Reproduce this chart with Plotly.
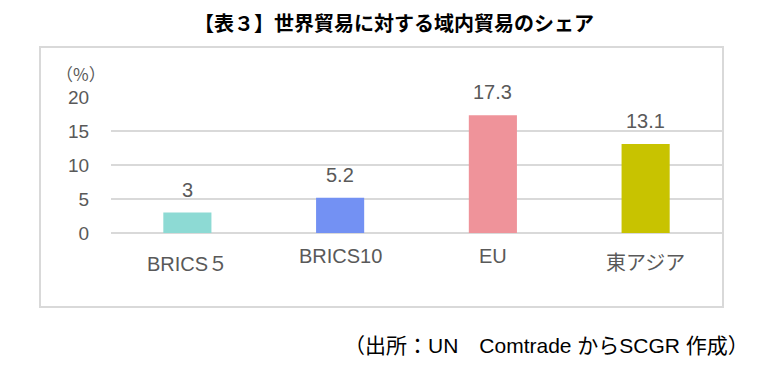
import plotly.graph_objects as go

categories = ["BRICS５", "BRICS10", "EU", "東アジア"]
values = [3, 5.2, 17.3, 13.1]
value_labels = ["3", "5.2", "17.3", "13.1"]
colors = ["#8ddad4", "#7391f3", "#ef939a", "#c8c300"]
y_ticks = [0, 5, 10, 15, 20]

# page body has an 8px margin, so the figure is drawn 8px smaller and shifted
OFF = 8
W, H = 772 - OFF, 374 - OFF
L, R, T, B = 111 - OFF, 722 - OFF, 97 - OFF, 233 - OFF

def px(x):
    return (x - OFF - L) / (R - L)

def py(y):
    return (B - (y - OFF)) / (B - T)

FONT = "Arial, 'Liberation Sans', 'Noto Sans CJK JP', sans-serif"
GRAY = "#595959"

fig = go.Figure(go.Bar(
    x=categories, y=values,
    marker=dict(color=colors, line=dict(width=0)),
    width=0.315, hoverinfo="skip",
))

annotations = [
    dict(text="<b>【表３】世界貿易に対する域内貿易のシェア</b>",
         xref="paper", yref="paper", x=px(394), y=py(22),
         showarrow=False, xanchor="center", yanchor="middle",
         font=dict(family="'Noto Sans CJK JP', sans-serif", size=20, color="#000000")),
    dict(text="（%）", xref="paper", yref="paper", x=px(81), y=py(73),
         showarrow=False, xanchor="center", yanchor="middle",
         font=dict(family="'Noto Sans CJK JP', sans-serif", size=17, color=GRAY)),
    dict(text="（出所：UN　Comtrade からSCGR 作成）",
         xref="paper", yref="paper", x=px(751), y=py(345),
         showarrow=False, xanchor="right", yanchor="middle",
         font=dict(family=FONT, size=21, color="#000000")),
]

# data labels above bars
for c, v, t in zip(categories, values, value_labels):
    annotations.append(dict(text=t, xref="x", yref="y", x=c, y=v,
                            showarrow=False, xanchor="center", yanchor="bottom",
                            yshift=10, font=dict(family=FONT, size=20, color=GRAY)))

# category labels (alternating heights, as in the original)
label_y = [264, 256, 256, 263]
for c, ly in zip(categories, label_y):
    annotations.append(dict(text=c, xref="x", yref="paper", x=c, y=py(ly),
                            showarrow=False, xanchor="center", yanchor="middle",
                            font=dict(family=FONT, size=20, color=GRAY)))

fig.update_layout(
    width=W, height=H,
    margin=dict(l=L, r=W - R, t=T, b=H - B),
    paper_bgcolor="white", plot_bgcolor="white",
    showlegend=False,
    font=dict(family=FONT, color=GRAY),
    xaxis=dict(showgrid=False, showline=False, zeroline=False,
               showticklabels=False),
    yaxis=dict(range=[0, 20], tickvals=y_ticks, showgrid=True,
               gridcolor="#d9d9d9", gridwidth=2, zeroline=True,
               zerolinecolor="#d9d9d9", zerolinewidth=2, showline=False,
               tickfont=dict(size=19, color=GRAY, family=FONT),
               ticks="outside", ticklen=17, tickcolor="rgba(0,0,0,0)"),
    shapes=[dict(type="rect", xref="paper", yref="paper",
                 x0=px(40), x1=px(723), y0=py(307), y1=py(47),
                 line=dict(color="#d9d9d9", width=2), layer="below")],
    annotations=annotations,
)

fig.write_html("out.html")
